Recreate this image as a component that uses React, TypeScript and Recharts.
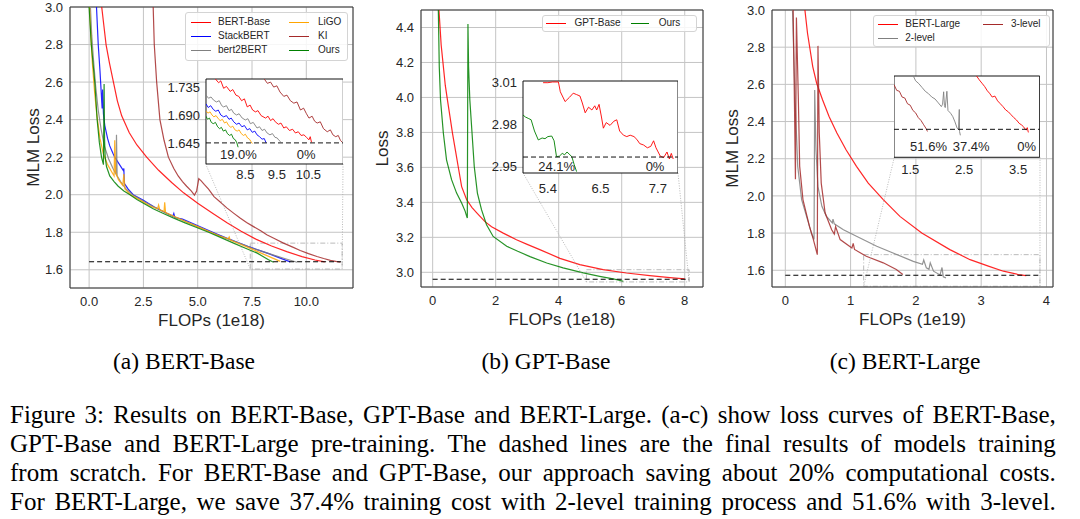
import React from "react";
import { LineChart, Line, XAxis, YAxis, CartesianGrid, ReferenceLine, ReferenceArea, ReferenceDot } from "recharts";

// ---------- (a) BERT-Base, main axes ----------
const aBertFlops = [0.58, 0.68, 0.78, 0.94, 1.12, 1.3, 1.5, 1.85, 2.2, 2.65, 3.2, 3.8, 4.35, 5.0, 5.7, 6.35, 7.0, 7.7, 8.4, 9.1, 9.8, 10.4, 10.85];
const aBertLoss = [3.0, 2.9, 2.8, 2.7, 2.6, 2.5, 2.42, 2.33, 2.265, 2.2, 2.13, 2.065, 2.01, 1.955, 1.9, 1.85, 1.805, 1.762, 1.727, 1.697, 1.67, 1.652, 1.642];
const aStackFlops = [0.34, 0.42, 0.5, 0.56, 0.6, 0.62, 0.66, 0.72, 0.85, 0.95, 1.1, 1.18, 1.35, 1.57, 1.6, 1.62, 1.8, 2.03, 2.5, 3.0, 3.5, 3.85, 3.9, 3.95, 4.3, 4.8, 5.3, 5.8, 6.3, 6.8, 7.3, 7.8, 8.3, 8.8, 9.26];
const aStackLoss = [3.0, 2.8, 2.66, 2.54, 2.46, 2.56, 2.43, 2.37, 2.3, 2.26, 2.22, 2.2, 2.17, 2.13, 2.14, 2.06, 2.03, 2.0, 1.97, 1.935, 1.905, 1.885, 1.9, 1.878, 1.87, 1.845, 1.82, 1.795, 1.77, 1.748, 1.725, 1.705, 1.685, 1.662, 1.642];
const aB2bFlops = [0.06, 0.12, 0.2, 0.3, 0.42, 0.55, 0.7, 0.9, 1.1, 1.24, 1.26, 1.29, 1.45, 1.7, 2.0, 2.5, 3.0, 3.5, 4.0, 4.5, 5.0, 5.5, 6.0, 6.5, 7.0, 7.5, 8.0, 8.5, 9.0, 9.57];
const aB2bLoss = [3.0, 2.85, 2.72, 2.58, 2.45, 2.35, 2.26, 2.19, 2.14, 2.11, 2.32, 2.1, 2.07, 2.03, 2.0, 1.965, 1.935, 1.905, 1.88, 1.855, 1.83, 1.805, 1.782, 1.76, 1.738, 1.716, 1.697, 1.678, 1.66, 1.64];
const aLigoFlops = [0.02, 0.08, 0.15, 0.25, 0.35, 0.5, 0.65, 0.85, 1.05, 1.15, 1.18, 1.22, 1.35, 1.55, 1.6, 1.65, 1.9, 2.3, 2.8, 3.15, 3.2, 3.25, 3.45, 3.48, 3.52, 4.0, 4.5, 5.0, 5.5, 6.0, 6.4, 6.45, 6.5, 7.0, 7.5, 8.0, 8.4, 8.8];
const aLigoLoss = [3.0, 2.85, 2.7, 2.55, 2.43, 2.3, 2.22, 2.16, 2.12, 2.1, 2.29, 2.12, 2.08, 2.05, 2.11, 2.03, 2.0, 1.975, 1.94, 1.925, 1.945, 1.92, 1.91, 1.96, 1.905, 1.88, 1.855, 1.83, 1.805, 1.78, 1.765, 1.775, 1.758, 1.735, 1.71, 1.685, 1.665, 1.645];
const aKiFlops = [2.95, 3.0, 3.11, 3.26, 3.45, 3.65, 3.9, 4.1, 4.3, 4.49, 4.7, 4.85, 4.95, 5.05, 5.15, 5.3, 5.5, 5.75, 6.05, 6.34, 6.65, 6.95, 7.25, 7.57, 7.9, 8.18, 8.55, 8.95, 9.35, 9.72, 10.1, 10.49, 10.8, 11.11, 11.35, 11.57];
const aKiLoss = [3.0, 2.8, 2.6, 2.4, 2.29, 2.2, 2.14, 2.1, 2.07, 2.045, 2.02, 1.998, 2.02, 2.085, 2.075, 2.055, 2.03, 1.99, 1.96, 1.93, 1.902, 1.876, 1.852, 1.83, 1.808, 1.787, 1.765, 1.742, 1.722, 1.703, 1.686, 1.671, 1.66, 1.65, 1.645, 1.64];
const aOursFlops = [0.0, 0.05, 0.1, 0.18, 0.26, 0.37, 0.47, 0.57, 0.66, 0.69, 0.71, 0.74, 0.8, 0.95, 1.15, 1.34, 1.6, 1.88, 2.2, 2.5, 2.95, 3.42, 3.9, 4.42, 4.95, 5.5, 6.1, 6.65, 7.2, 7.72, 8.26, 8.49];
const aOursLoss = [3.0, 2.9, 2.8, 2.7, 2.6, 2.4, 2.28, 2.2, 2.16, 2.59, 2.3, 2.2, 2.15, 2.1, 2.07, 2.045, 2.02, 2.0, 1.975, 1.955, 1.925, 1.9, 1.875, 1.85, 1.825, 1.8, 1.77, 1.742, 1.715, 1.69, 1.654, 1.64];
const aBaseline = { loss: 1.643, from: 0, to: 11.6 };
const aZoomRegion = { x1: 7.42, x2: 11.65, y1: 1.604, y2: 1.742 };

// (a) inset
const aZBertFlops = [7.55, 7.65, 7.72, 7.81, 7.9, 8.02, 8.1, 8.2, 8.29, 8.38, 8.47, 8.56, 8.65, 8.73, 8.82, 8.9, 9.0, 9.14, 9.22, 9.3, 9.38, 9.45, 9.55, 9.63, 9.72, 9.8, 9.9, 10.0, 10.09, 10.18, 10.27, 10.36, 10.44, 10.52, 10.56, 10.6];
const aZBertLoss = [1.748, 1.742, 1.745, 1.733, 1.736, 1.728, 1.731, 1.722, 1.72, 1.713, 1.716, 1.703, 1.706, 1.698, 1.695, 1.697, 1.689, 1.685, 1.688, 1.681, 1.684, 1.679, 1.675, 1.677, 1.669, 1.671, 1.665, 1.667, 1.661, 1.663, 1.657, 1.658, 1.654, 1.65, 1.655, 1.646];
const aZKiFlops = [9.1, 9.2, 9.3, 9.4, 9.5, 9.6, 9.72, 9.82, 9.93, 10.04, 10.14, 10.25, 10.35, 10.44, 10.52, 10.62, 10.7, 10.78, 10.88, 10.98, 11.1, 11.2, 11.28, 11.37, 11.45, 11.52, 11.58];
const aZKiLoss = [1.748, 1.741, 1.743, 1.735, 1.737, 1.727, 1.72, 1.722, 1.713, 1.709, 1.711, 1.698, 1.701, 1.692, 1.685, 1.688, 1.68, 1.677, 1.679, 1.668, 1.663, 1.666, 1.658, 1.655, 1.657, 1.649, 1.646];
const aZB2bFlops = [7.25, 7.33, 7.41, 7.49, 7.58, 7.67, 7.75, 7.81, 7.9, 7.98, 8.06, 8.13, 8.22, 8.3, 8.4, 8.5, 8.58, 8.66, 8.75, 8.87, 8.95, 9.03, 9.11, 9.19, 9.28, 9.36, 9.44, 9.51, 9.57, 9.62];
const aZB2bLoss = [1.722, 1.717, 1.719, 1.714, 1.711, 1.713, 1.705, 1.703, 1.705, 1.697, 1.699, 1.693, 1.69, 1.692, 1.685, 1.682, 1.684, 1.676, 1.678, 1.669, 1.671, 1.665, 1.667, 1.661, 1.658, 1.66, 1.654, 1.653, 1.649, 1.647];
const aZStackFlops = [7.25, 7.32, 7.4, 7.48, 7.56, 7.64, 7.72, 7.81, 7.9, 7.98, 8.05, 8.13, 8.22, 8.3, 8.39, 8.47, 8.56, 8.64, 8.72, 8.8, 8.87, 8.95, 9.03, 9.1, 9.16];
const aZStackLoss = [1.708, 1.702, 1.705, 1.699, 1.696, 1.698, 1.69, 1.687, 1.689, 1.683, 1.685, 1.679, 1.675, 1.677, 1.671, 1.673, 1.666, 1.668, 1.662, 1.664, 1.658, 1.655, 1.651, 1.652, 1.645];
const aZLigoFlops = [7.25, 7.31, 7.38, 7.44, 7.5, 7.57, 7.64, 7.7, 7.77, 7.84, 7.9, 7.97, 8.04, 8.1, 8.17, 8.24, 8.3, 8.37, 8.44, 8.5, 8.57, 8.63, 8.68, 8.72];
const aZLigoLoss = [1.697, 1.693, 1.695, 1.69, 1.687, 1.689, 1.684, 1.681, 1.683, 1.677, 1.679, 1.673, 1.67, 1.672, 1.666, 1.664, 1.666, 1.66, 1.657, 1.659, 1.653, 1.651, 1.647, 1.644];
const aZOursFlops = [7.25, 7.3, 7.36, 7.42, 7.48, 7.55, 7.62, 7.68, 7.74, 7.8, 7.87, 7.93, 8.0, 8.06, 8.12, 8.18, 8.23, 8.27];
const aZOursLoss = [1.688, 1.683, 1.685, 1.678, 1.676, 1.678, 1.671, 1.668, 1.67, 1.664, 1.666, 1.66, 1.657, 1.659, 1.652, 1.65, 1.645, 1.638];
const aZBaseline = 1.645;
const aZNotes = [{ label: "19.0%", x: 8.28, y: 1.626 }, { label: "0%", x: 10.43, y: 1.626 }];

// ---------- (b) GPT-Base ----------
const bGptFlops = [0.2, 0.27, 0.34, 0.4, 0.47, 0.55, 0.63, 0.72, 0.81, 0.92, 1.08, 1.25, 1.4, 1.66, 1.87, 2.24, 2.66, 3.0, 3.4, 4.04, 4.67, 5.41, 6.15, 6.89, 7.53, 8.0];
const bGptLoss = [4.5, 4.3, 4.176, 4.07, 3.985, 3.89, 3.795, 3.7, 3.605, 3.49, 3.415, 3.37, 3.34, 3.29, 3.26, 3.224, 3.186, 3.16, 3.13, 3.08, 3.044, 3.015, 2.996, 2.981, 2.97, 2.962];
const bOursFlops = [0.18, 0.21, 0.25, 0.34, 0.44, 0.6, 0.76, 0.92, 1.03, 1.08, 1.1, 1.12, 1.14, 1.18, 1.25, 1.32, 1.42, 1.55, 1.71, 1.92, 2.35, 2.7, 3.09, 3.62, 4.14, 4.78, 5.3, 5.73, 6.05];
const bOursLoss = [4.5, 4.176, 3.985, 3.795, 3.643, 3.53, 3.453, 3.396, 3.35, 3.32, 3.31, 4.42, 4.176, 3.985, 3.795, 3.605, 3.453, 3.358, 3.272, 3.205, 3.149, 3.12, 3.09, 3.053, 3.025, 2.997, 2.977, 2.962, 2.949];
const bBaseline = { loss: 2.96, from: 0, to: 8.14 };
const bZoomRegion = { x1: 4.88, x2: 8.14, y1: 2.945, y2: 3.015 };

const bZGptFlops = [5.3, 5.4, 5.5, 5.62, 5.66, 5.76, 5.85, 5.93, 6.0, 6.07, 6.12, 6.18, 6.25, 6.32, 6.38, 6.42, 6.47, 6.52, 6.56, 6.62, 6.7, 6.78, 6.84, 6.9, 6.98, 7.05, 7.12, 7.2, 7.26, 7.32, 7.4, 7.48, 7.55, 7.61, 7.66, 7.75, 7.82, 7.89, 7.94, 7.98, 8.02];
const bZGptLoss = [3.0095, 3.0095, 3.01, 3.01, 3.003, 2.996, 2.999, 3.002, 3.001, 3.0, 2.995, 2.988, 2.992, 2.99, 2.993, 2.99, 2.994, 2.985, 2.977, 2.981, 2.979, 2.982, 2.983, 2.975, 2.972, 2.971, 2.972, 2.971, 2.969, 2.966, 2.965, 2.963, 2.964, 2.968, 2.963, 2.957, 2.956, 2.96, 2.955, 2.959, 2.955];
const bZOursFlops = [4.88, 4.93, 4.99, 5.05, 5.12, 5.2, 5.28, 5.34, 5.4, 5.48, 5.53, 5.58, 5.64, 5.7, 5.75, 5.8, 5.86, 5.9, 5.95, 6.0];
const bZOursLoss = [2.9864, 2.985, 2.984, 2.983, 2.975, 2.9686, 2.97, 2.9695, 2.971, 2.9714, 2.968, 2.9567, 2.957, 2.959, 2.958, 2.96, 2.958, 2.9567, 2.951, 2.946];
const bZBaseline = 2.9564;
const bZNotes = [{ label: "24.1%", x: 5.585, y: 2.9495 }, { label: "0%", x: 7.64, y: 2.9495 }];

// ---------- (c) BERT-Large ----------
const cLargeFlops = [0.3, 0.34, 0.42, 0.48, 0.57, 0.67, 0.79, 0.93, 1.09, 1.27, 1.5, 1.755, 2.09, 2.52, 2.83, 3.11, 3.34, 3.57, 3.69];
const cLargeLoss = [3.0, 2.875, 2.696, 2.606, 2.517, 2.427, 2.338, 2.248, 2.159, 2.069, 1.98, 1.89, 1.8, 1.711, 1.657, 1.622, 1.595, 1.577, 1.571];
const c2LevelFlops = [0.11, 0.13, 0.15, 0.19, 0.25, 0.34, 0.4, 0.44, 0.45, 0.46, 0.47, 0.5, 0.56, 0.63, 0.72, 0.73, 0.75, 0.89, 1.09, 1.4, 1.65, 1.96, 2.1, 2.12, 2.16, 2.2, 2.22, 2.27, 2.37, 2.4, 2.42, 2.46];
const c2LevelLoss = [3.0, 2.75, 2.517, 2.159, 1.98, 1.872, 1.8, 1.765, 2.57, 2.4, 2.248, 2.05, 1.944, 1.89, 1.855, 1.875, 1.85, 1.818, 1.783, 1.729, 1.693, 1.648, 1.632, 1.655, 1.613, 1.605, 1.64, 1.595, 1.575, 1.615, 1.565, 1.559];
const c3LevelFlops = [0.12, 0.14, 0.155, 0.17, 0.2, 0.22, 0.27, 0.37, 0.43, 0.49, 0.5, 0.52, 0.55, 0.61, 0.71, 0.75, 0.77, 0.84, 1.02, 1.04, 1.06, 1.24, 1.5, 1.7, 1.8];
const c3LevelLoss = [3.0, 2.5, 2.09, 2.96, 2.517, 2.159, 1.98, 1.836, 1.765, 1.684, 2.807, 2.338, 2.069, 1.908, 1.818, 1.795, 1.835, 1.765, 1.72, 1.745, 1.712, 1.675, 1.64, 1.604, 1.577];
const cBaseline = { loss: 1.573, from: 0, to: 3.9 };
const cZoomRegion = { x1: 1.2, x2: 3.9, y1: 1.514, y2: 1.684 };

const cZ3Flops = [1.2, 1.25, 1.3, 1.35, 1.4, 1.45, 1.5, 1.55, 1.6, 1.65, 1.7, 1.75, 1.79, 1.82];
const cZ3Loss = [1.666, 1.654, 1.652, 1.64, 1.638, 1.626, 1.623, 1.612, 1.607, 1.597, 1.591, 1.582, 1.575, 1.568];
const cZ2Flops = [1.55, 1.6, 1.66, 1.72, 1.78, 1.84, 1.9, 1.96, 2.02, 2.078, 2.1, 2.12, 2.135, 2.15, 2.18, 2.2, 2.25, 2.29, 2.33, 2.37, 2.395, 2.41, 2.415, 2.43];
const cZ2Loss = [1.686, 1.674, 1.668, 1.66, 1.652, 1.647, 1.64, 1.636, 1.628, 1.62, 1.625, 1.651, 1.622, 1.618, 1.652, 1.612, 1.606, 1.599, 1.588, 1.575, 1.572, 1.614, 1.568, 1.56];
const cZLargeFlops = [2.73, 2.78, 2.83, 2.88, 2.93, 2.97, 3.02, 3.07, 3.12, 3.17, 3.22, 3.27, 3.32, 3.37, 3.42, 3.47, 3.52, 3.56, 3.6, 3.63, 3.65, 3.67, 3.69];
const cZLargeLoss = [1.684, 1.676, 1.669, 1.662, 1.653, 1.648, 1.64, 1.642, 1.632, 1.626, 1.62, 1.613, 1.609, 1.603, 1.597, 1.592, 1.585, 1.582, 1.578, 1.573, 1.571, 1.576, 1.566];
const cZBaseline = 1.5725;
const cZNotes = [{ label: "51.6%", x: 1.84, y: 1.5376 }, { label: "37.4%", x: 2.63, y: 1.5376 }, { label: "0%", x: 3.66, y: 1.5376 }];

// ticks
const aXTicks = [0, 2.5, 5, 7.5, 10];
const bXTicks = [0, 2, 4, 6, 8];
const cXTicks = [0, 1, 2, 3, 4];
const lossTicks = [1.6, 1.8, 2.0, 2.2, 2.4, 2.6, 2.8, 3.0];
const gptTicks = [3.0, 3.2, 3.4, 3.6, 3.8, 4.0, 4.2, 4.4];
const aZXTicks = [8.5, 9.5, 10.5];
const aZYTicks = [1.645, 1.69, 1.735];
const bZXTicks = [5.4, 6.5, 7.7];
const bZYTicks = [2.95, 2.98, 3.01];
const cZXTicks = [1.5, 2.5, 3.5];

const captionLines = [
  "Figure 3: Results on BERT-Base, GPT-Base and BERT-Large. (a-c) show loss curves of BERT-Base,",
  "GPT-Base and BERT-Large pre-training. The dashed lines are the final results of models training",
  "from scratch. For BERT-Base and GPT-Base, our approach saving about 20% computational costs.",
  "For BERT-Large, we save 37.4% training cost with 2-level training process and 51.6% with 3-level.",
];

const SANS = "'Liberation Sans', Arial, sans-serif";
const SERIF = "'Liberation Serif', 'Times New Roman', serif";
const INK = "#262626";
const C = { red: "#ff0000", blue: "#0000ff", gray: "#808080", orange: "#ffa500", brown: "#a52a2a", green: "#008000" };

type Pt = { x: number; y: number };
type Series = { name: string; color: string; points: Pt[] };
type Box = { l: number; t: number; r: number; b: number };
type Region = { x1: number; x2: number; y1: number; y2: number };

const pts = (xs: number[], ys: number[]): Pt[] => xs.map((x, i) => ({ x, y: ys[i] }));
const fmt = (d: number) => (v: number) => v.toFixed(d);

function MainPanel(p: {
  left: number; box: Box; xDomain: [number, number]; yDomain: [number, number];
  xTicks: number[]; yTicks: number[]; xDigits: number; series: Series[];
  base: { loss: number; from: number; to: number }; zoom: Region; inset: Box;
  xTitle: string; yTitle: string; yTitleX: number;
}) {
  const W = 360, H = 330, YW = 50, XH = 40;
  const margin = { top: p.box.t, left: p.box.l - p.left - YW, right: p.left + W - p.box.r, bottom: H - p.box.b - XH };
  // page pixel -> data, used to anchor the inset connector lines
  const toX = (px: number) => p.xDomain[0] + ((px - p.box.l) / (p.box.r - p.box.l)) * (p.xDomain[1] - p.xDomain[0]);
  const toY = (py: number) => p.yDomain[1] - ((py - p.box.t) / (p.box.b - p.box.t)) * (p.yDomain[1] - p.yDomain[0]);
  const cy = toY(p.inset.b);
  const midY = (p.box.t + p.box.b) / 2;
  const midX = (p.box.l + p.box.r) / 2 - p.left;
  return (
    <div style={{ position: "absolute", left: p.left, top: 0 }}>
      <LineChart width={W} height={H} margin={margin}>
        <CartesianGrid stroke="#c4c4c4" />
        <XAxis type="number" dataKey="x" domain={p.xDomain} ticks={p.xTicks} interval={0} allowDataOverflow
          tickFormatter={fmt(p.xDigits)} tickLine={false} axisLine={false} tickSize={0} tickMargin={9} height={XH}
          tick={{ fontSize: 13, fill: INK }}
          label={() => <text x={midX} y={p.box.b + 32} textAnchor="middle" dominantBaseline="central" fontSize={17} fill={INK}>{p.xTitle}</text>} />
        <YAxis type="number" domain={p.yDomain} ticks={p.yTicks} interval={0} allowDataOverflow
          tickFormatter={fmt(1)} tickLine={false} axisLine={false} tickSize={0} tickMargin={7} width={YW}
          tick={{ fontSize: 13, fill: INK }}
          label={() => <text x={p.yTitleX} y={midY} transform={`rotate(-90 ${p.yTitleX} ${midY})`} textAnchor="middle" dominantBaseline="central" fontSize={17} fill={INK}>{p.yTitle}</text>} />
        {p.series.map((s) => (
          <Line key={s.name} data={s.points} dataKey="y" stroke={s.color} strokeOpacity={0.85} strokeWidth={1.2} dot={false} isAnimationActive={false} />
        ))}
        <ReferenceLine segment={[{ x: p.base.from, y: p.base.loss }, { x: p.base.to, y: p.base.loss }]} stroke="#000" strokeDasharray="5 3" strokeWidth={1.1} ifOverflow="visible" />
        <ReferenceArea x1={p.zoom.x1} x2={p.zoom.x2} y1={p.zoom.y1} y2={p.zoom.y2} fill="none" fillOpacity={0} stroke="#a8a8a8" strokeDasharray="5 2 1 2" strokeWidth={0.8} ifOverflow="visible" />
        <ReferenceLine segment={[{ x: toX(p.inset.l), y: cy }, { x: p.zoom.x1, y: p.zoom.y1 }]} stroke="#a8a8a8" strokeDasharray="1 1.5" strokeWidth={0.8} ifOverflow="visible" />
        <ReferenceLine segment={[{ x: toX(p.inset.r), y: cy }, { x: p.zoom.x2, y: p.zoom.y1 }]} stroke="#a8a8a8" strokeDasharray="1 1.5" strokeWidth={0.8} ifOverflow="visible" />
        <ReferenceArea x1={p.xDomain[0]} x2={p.xDomain[1]} y1={p.yDomain[0]} y2={p.yDomain[1]} fill="none" fillOpacity={0} stroke="#333" strokeWidth={1} ifOverflow="visible" />
      </LineChart>
    </div>
  );
}

function Inset(p: {
  box: Box; xDomain: [number, number]; yDomain: [number, number]; xTicks: number[]; yTicks?: number[];
  yDigits?: number; series: Series[]; base: number; notes: { label: string; x: number; y: number }[]; xTickGap: number;
}) {
  const YW = p.yTicks ? 45 : 0, XH = 30, TOP = 10;
  const w = p.box.r - p.box.l, h = p.box.b - p.box.t;
  return (
    <div style={{ position: "absolute", left: p.box.l - YW, top: p.box.t - TOP }}>
      <LineChart width={w + YW} height={h + XH + TOP} margin={{ top: TOP, right: 0, bottom: 0, left: 0 }}>
        <CartesianGrid horizontal={false} vertical={false} fill="#fff" />
        <XAxis type="number" dataKey="x" domain={p.xDomain} ticks={p.xTicks} interval={0} allowDataOverflow
          tickFormatter={fmt(1)} tickLine={false} axisLine={false} tickSize={0} tickMargin={p.xTickGap} height={XH}
          tick={{ fontSize: 13, fill: INK }} />
        <YAxis type="number" domain={p.yDomain} ticks={p.yTicks} interval={0} allowDataOverflow hide={!p.yTicks}
          tickFormatter={fmt(p.yDigits ?? 2)} tickLine={false} axisLine={false} tickSize={0} tickMargin={6} width={YW}
          tick={{ fontSize: 13, fill: INK }} />
        {p.series.map((s) => (
          <Line key={s.name} data={s.points} dataKey="y" stroke={s.color} strokeOpacity={0.9} strokeWidth={1} dot={false} isAnimationActive={false} />
        ))}
        <ReferenceLine y={p.base} stroke="#111" strokeDasharray="5 3" strokeWidth={1} />
        {p.notes.map((n) => (
          <ReferenceDot key={n.label} x={n.x} y={n.y} r={0} fill="none" stroke="none" ifOverflow="visible"
            label={{ value: n.label, position: "center", fontSize: 13, fill: INK }} />
        ))}
        <ReferenceArea x1={p.xDomain[0]} x2={p.xDomain[1]} y1={p.yDomain[0]} y2={p.yDomain[1]} fill="none" fillOpacity={0} stroke="#111" strokeWidth={1} ifOverflow="visible" />
      </LineChart>
    </div>
  );
}

type LegendItem = { name: string; color: string };
function LegendBox(p: { x: number; y: number; w: number; h: number; rowY: number[]; cols: { line: [number, number]; text: number }[]; columns: LegendItem[][] }) {
  return (
    <div style={{ position: "absolute", left: p.x, top: p.y, width: p.w, height: p.h, boxSizing: "border-box", border: "1px solid #d4d4d4", borderRadius: 3, background: "rgba(255,255,255,0.85)" }}>
      {p.columns.map((col, ci) =>
        col.map((it, ri) => (
          <React.Fragment key={it.name}>
            <div style={{ position: "absolute", left: p.cols[ci].line[0], width: p.cols[ci].line[1] - p.cols[ci].line[0], top: Math.round(p.rowY[ri]) - 1, height: 1.3, background: it.color }} />
            <div style={{ position: "absolute", left: p.cols[ci].text, top: p.rowY[ri] - 8, height: 14, lineHeight: "14px", fontSize: 10, color: INK, whiteSpace: "nowrap" }}>{it.name}</div>
          </React.Fragment>
        ))
      )}
    </div>
  );
}

const panelA: Series[] = [
  { name: "BERT-Base", color: C.red, points: pts(aBertFlops, aBertLoss) },
  { name: "StackBERT", color: C.blue, points: pts(aStackFlops, aStackLoss) },
  { name: "bert2BERT", color: C.gray, points: pts(aB2bFlops, aB2bLoss) },
  { name: "LiGO", color: C.orange, points: pts(aLigoFlops, aLigoLoss) },
  { name: "KI", color: C.brown, points: pts(aKiFlops, aKiLoss) },
  { name: "Ours", color: C.green, points: pts(aOursFlops, aOursLoss) },
];
const insetA: Series[] = [
  { name: "BERT-Base", color: C.red, points: pts(aZBertFlops, aZBertLoss) },
  { name: "StackBERT", color: C.blue, points: pts(aZStackFlops, aZStackLoss) },
  { name: "bert2BERT", color: C.gray, points: pts(aZB2bFlops, aZB2bLoss) },
  { name: "LiGO", color: C.orange, points: pts(aZLigoFlops, aZLigoLoss) },
  { name: "KI", color: C.brown, points: pts(aZKiFlops, aZKiLoss) },
  { name: "Ours", color: C.green, points: pts(aZOursFlops, aZOursLoss) },
];
const panelB: Series[] = [
  { name: "GPT-Base", color: C.red, points: pts(bGptFlops, bGptLoss) },
  { name: "Ours", color: C.green, points: pts(bOursFlops, bOursLoss) },
];
const insetB: Series[] = [
  { name: "GPT-Base", color: C.red, points: pts(bZGptFlops, bZGptLoss) },
  { name: "Ours", color: C.green, points: pts(bZOursFlops, bZOursLoss) },
];
const panelC: Series[] = [
  { name: "BERT-Large", color: C.red, points: pts(cLargeFlops, cLargeLoss) },
  { name: "2-level", color: C.gray, points: pts(c2LevelFlops, c2LevelLoss) },
  { name: "3-level", color: C.brown, points: pts(c3LevelFlops, c3LevelLoss) },
];
const insetC: Series[] = [
  { name: "BERT-Large", color: C.red, points: pts(cZLargeFlops, cZLargeLoss) },
  { name: "2-level", color: C.gray, points: pts(cZ2Flops, cZ2Loss) },
  { name: "3-level", color: C.brown, points: pts(cZ3Flops, cZ3Loss) },
];

const boxA = { l: 70, t: 7, r: 353, b: 288 };
const boxB = { l: 421, t: 10, r: 703, b: 287 };
const boxC = { l: 772, t: 10, r: 1053, b: 287 };
const insetBoxA = { l: 205.7, t: 79, r: 343, b: 164 };
const insetBoxB = { l: 523, t: 81, r: 678, b: 173 };
const insetBoxC = { l: 894.3, t: 76, r: 1040, b: 157.3 };

const subcaptions = [
  { text: "(a) BERT-Base", cx: 184 },
  { text: "(b) GPT-Base", cx: 546 },
  { text: "(c) BERT-Large", cx: 905 },
];

export default function App() {
  return (
    <div style={{ position: "absolute", left: 0, top: 0, width: 1080, height: 519, background: "#fff", fontFamily: SANS, overflow: "hidden" }}>
      <MainPanel left={0} box={boxA} xDomain={[-0.88, 12.15]} yDomain={[1.503, 3.0]} xTicks={aXTicks} yTicks={lossTicks} xDigits={1}
        series={panelA} base={aBaseline} zoom={aZoomRegion} inset={insetBoxA} xTitle="FLOPs (1e18)" yTitle="MLM Loss" yTitleX={33} />
      <MainPanel left={360} box={boxB} xDomain={[-0.37, 8.58]} yDomain={[2.916, 4.5]} xTicks={bXTicks} yTicks={gptTicks} xDigits={0}
        series={panelB} base={bBaseline} zoom={bZoomRegion} inset={insetBoxB} xTitle="FLOPs (1e18)" yTitle="Loss" yTitleX={22} />
      <MainPanel left={720} box={boxC} xDomain={[-0.204, 4.1]} yDomain={[1.51, 3.0]} xTicks={cXTicks} yTicks={lossTicks} xDigits={0}
        series={panelC} base={cBaseline} zoom={cZoomRegion} inset={insetBoxC} xTitle="FLOPs (1e19)" yTitle="MLM Loss" yTitleX={12} />

      <Inset box={insetBoxA} xDomain={[7.25, 11.61]} yDomain={[1.611, 1.748]} xTicks={aZXTicks} yTicks={aZYTicks} yDigits={3}
        series={insetA} base={aZBaseline} notes={aZNotes} xTickGap={5.5} />
      <Inset box={insetBoxB} xDomain={[4.88, 8.12]} yDomain={[2.945, 3.0107]} xTicks={bZXTicks} yTicks={bZYTicks} yDigits={2}
        series={insetB} base={bZBaseline} notes={bZNotes} xTickGap={10.5} />
      <Inset box={insetBoxC} xDomain={[1.2, 3.9]} yDomain={[1.514, 1.684]} xTicks={cZXTicks}
        series={insetC} base={cZBaseline} notes={cZNotes} xTickGap={7.5} />

      <LegendBox x={185} y={12} w={163} h={49} rowY={[9.7, 23.7, 38.2]}
        cols={[{ line: [5, 25], text: 32 }, { line: [103, 123], text: 132 }]}
        columns={[panelA.slice(0, 3), panelA.slice(3)]} />
      <LegendBox x={541.7} y={15} w={155} h={17.3} rowY={[8.3]}
        cols={[{ line: [3.3, 23.3], text: 31.7 }, { line: [88.3, 106.7], text: 116 }]}
        columns={[[panelB[0]], [panelB[1]]]} />
      <LegendBox x={873.3} y={15} w={176.7} h={31.7} rowY={[9, 22.7]}
        cols={[{ line: [3.3, 23.3], text: 31 }, { line: [108.3, 128.3], text: 136.7 }]}
        columns={[[panelC[0], panelC[1]], [panelC[2]]]} />

      {subcaptions.map((s) => (
        <div key={s.text} style={{ position: "absolute", left: s.cx - 150, width: 300, top: 348, height: 26, lineHeight: "26px", textAlign: "center", fontFamily: SERIF, fontSize: 23.5, color: "#000" }}>{s.text}</div>
      ))}
      {captionLines.map((line, i) => (
        <div key={i} style={{ position: "absolute", left: 10, width: 1046, top: 400.4 + i * 28.7, height: 29, lineHeight: "29px", display: "flex", justifyContent: "space-between", whiteSpace: "nowrap", fontFamily: SERIF, fontSize: 25, color: "#000" }}>
          {line.split(" ").map((word, j) => <span key={j}>{word}</span>)}
        </div>
      ))}
    </div>
  );
}
